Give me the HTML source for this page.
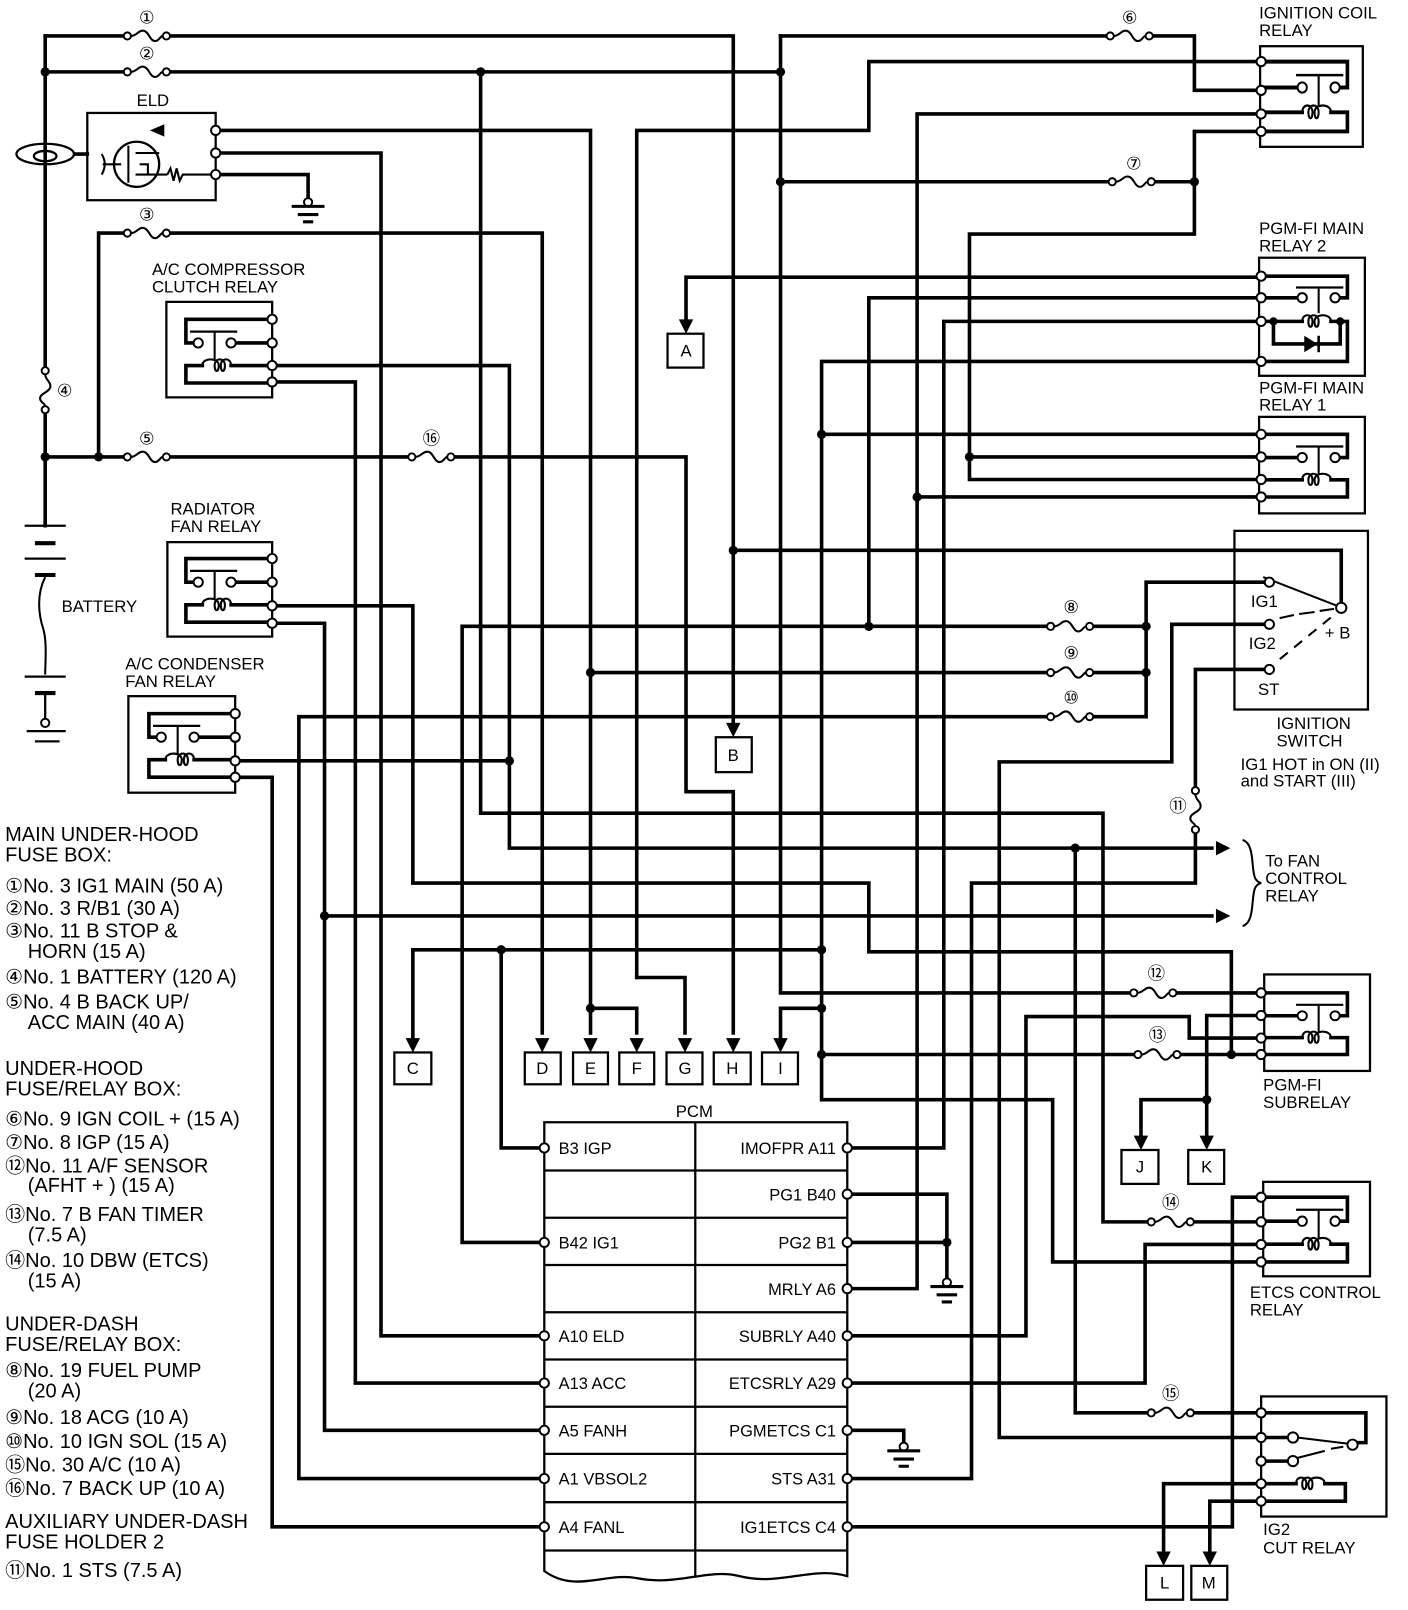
<!DOCTYPE html>
<html><head><meta charset="utf-8"><style>
html,body{margin:0;padding:0;background:#fff}
svg{display:block}
text{font-family:"Liberation Sans","DejaVu Sans","Noto Sans CJK JP",sans-serif;fill:#000}
.w{fill:none;stroke:#000;stroke-width:3.5;stroke-linejoin:miter;stroke-linecap:square}
.t{fill:none;stroke:#000;stroke-width:2}
.b{fill:none;stroke:#000;stroke-width:2.2}
.pin{fill:#fff;stroke:#000;stroke-width:1.9}
.lb{font-size:16.3px}
.lg{font-size:19.5px}
.pc{font-size:16px}
</style></head><body>
<svg width="1408" height="1610" viewBox="0 0 1371 1568" preserveAspectRatio="none" xmlns="http://www.w3.org/2000/svg">
<defs>
<g id="fu">
<rect x="-22" y="-5" width="44" height="10" fill="#fff"/>
<path d="M-15.5,0 C-10,0 -8,-6 -3,-5 C2,-4 3,5 8,5 C12,5 13,0 15.5,0" class="t"/>
<circle cx="-19" cy="0" r="3.5" class="pin"/><circle cx="19" cy="0" r="3.5" class="pin"/>
</g>
<g id="ar"><polygon points="-7,-14 7,-14 0,0" fill="#000"/></g>
<g id="rl">
<path d="M0,0 H84 V23 H76 M0,23 H36 M0,45 H40 M68,45 H84 V62 H0" class="w"/>
<path d="M34,12 H80" class="b"/><path d="M56,12 V40" class="t"/>
<circle cx="40" cy="23" r="4.5" class="pin"/><circle cx="72" cy="23" r="4.5" class="pin"/>
<path d="M40,45 C40,37 50,37 50,45 C50,52 46,52 46,45 C46,37 56,37 56,45 C56,52 52,52 52,45 C52,37 68,37 68,45" class="t"/>
</g>
<g id="gnd">
<circle cx="0" cy="4" r="4" class="pin"/>
<path d="M-16,8 H16 M-10,16 H10 M-5,23 H5" style="stroke:#000;stroke-width:3"/>
</g>
</defs>

<!-- ================= WIRES ================= -->
<g class="w">
<path d="M44,35 H714 V704"/>
<path d="M44,35 V512"/>
<path d="M44,70 H760"/>
<path d="M760,35 H1163 V88 H1228"/>
<path d="M760,35 V967 H1228"/>
<path d="M760,177 H1163 M1228,128 H1163 V228 H944 V467 H1228"/>
<path d="M620,952 V127 H846 V60 H1228"/>
<path d="M620,952 H667 V1006"/>
<path d="M1228,111 H893 V1255 H825 M893,484 H1228"/>
<path d="M210,127 H575 V1006 M575,982 H620 V1006"/>
<path d="M210,149 H371 V1301 H530"/>
<path d="M210,170 H300 V193"/>
<path d="M96,445 V227 H528 V1006"/>
<path d="M44,445 H668 V771 H714 V1006"/>
<path d="M1228,270 H668 V311"/>
<path d="M1228,290 H846 V610"/>
<path d="M1228,313 H919 V1118 H825"/>
<path d="M1228,352 H800 V1071 H1025 V1229 H1228 M800,423 H1228 M944,445 H1228"/>
<path d="M714,536 H1306 V592"/>
<path d="M450,1210 V610 H1116 M450,1210 H530"/>
<path d="M575,655 H1116"/>
<path d="M530,1440 H291 V698 H1116 V567 H1236"/>
<path d="M1236,608 H1141 V742 H973 V1400 H1228"/>
<path d="M1236,652 H1164 V860 H946 V1440 H825"/>
<path d="M265,590 H402 V860 H846 V927 H1199 V1027"/>
<path d="M265,607 H316 V1393 H530 M316,892 H1180"/>
<path d="M265,356 H496 V826 H1180"/>
<path d="M265,372 H346 V1347 H530"/>
<path d="M229,741 H496"/>
<path d="M229,757 H265 V1487 H530"/>
<path d="M468,70 V792 H1074 V1190 H1228"/>
<path d="M402,1011 V925 H800 M488,925 V1118 H530"/>
<path d="M800,982 H760 V1011"/>
<path d="M800,1027 H1228"/>
<path d="M1228,989 H1175 V1106 M1175,1071 H1111 V1106"/>
<path d="M1228,1011 H1158 V990 H999 V1301 H825"/>
<path d="M1047,826 V1376 H1228"/>
<path d="M1228,1166 H1200 V1487 H825"/>
<path d="M1228,1212 H1115 V1347 H825"/>
<path d="M1228,1445 H1133 V1511 M1228,1462 H1178 V1511"/>
<path d="M825,1163 H922 V1245 M825,1210 H922"/>
<path d="M825,1393 H880 V1405"/>
<path d="M73,150 H85"/>
</g>

<!-- dots -->
<g fill="#000">
<circle cx="44" cy="70" r="4.5"/><circle cx="468" cy="70" r="4.5"/><circle cx="760" cy="70" r="4.5"/>
<circle cx="760" cy="177" r="4.5"/><circle cx="1163" cy="177" r="4.5"/>
<circle cx="44" cy="445" r="4.5"/><circle cx="96" cy="445" r="4.5"/>
<circle cx="944" cy="445" r="4.5"/><circle cx="800" cy="423" r="4.5"/><circle cx="893" cy="484" r="4.5"/>
<circle cx="714" cy="536" r="4.5"/><circle cx="846" cy="610" r="4.5"/><circle cx="1116" cy="610" r="4.5"/>
<circle cx="575" cy="655" r="4.5"/><circle cx="1116" cy="655" r="4.5"/>
<circle cx="496" cy="741" r="4.5"/><circle cx="1047" cy="826" r="4.5"/><circle cx="316" cy="892" r="4.5"/>
<circle cx="488" cy="925" r="4.5"/><circle cx="800" cy="925" r="4.5"/><circle cx="800" cy="982" r="4.5"/>
<circle cx="575" cy="982" r="4.5"/><circle cx="800" cy="1027" r="4.5"/><circle cx="1199" cy="1027" r="4.5"/>
<circle cx="1175" cy="1071" r="4.5"/><circle cx="922" cy="1210" r="4.5"/>
</g>

<!-- fuses -->
<use href="#fu" x="143" y="35"/><use href="#fu" x="143" y="70"/><use href="#fu" x="143" y="227"/>
<use href="#fu" x="143" y="445"/><use href="#fu" x="420" y="445"/>
<use href="#fu" x="1100" y="35"/><use href="#fu" x="1102" y="177"/>
<use href="#fu" x="1042" y="610"/><use href="#fu" x="1042" y="655"/><use href="#fu" x="1042" y="698"/>
<use href="#fu" x="1123" y="967"/><use href="#fu" x="1127" y="1027"/><use href="#fu" x="1140" y="1190"/><use href="#fu" x="1140" y="1376"/>
<g transform="translate(44,380) rotate(90)"><use href="#fu"/></g>
<g transform="translate(1164,789) rotate(90)"><use href="#fu"/></g>
<g text-anchor="middle" font-size="17">
<text x="143" y="23">①</text><text x="143" y="58">②</text><text x="143" y="215">③</text>
<text x="143" y="433">⑤</text><text x="420" y="433">⑯</text><text x="63" y="386">④</text>
<text x="1100" y="23">⑥</text><text x="1104" y="165">⑦</text>
<text x="1043" y="597">⑧</text><text x="1043" y="642">⑨</text><text x="1043" y="685">⑩</text>
<text x="1147" y="791">⑪</text>
<text x="1126" y="954">⑫</text><text x="1127" y="1014">⑬</text><text x="1140" y="1177">⑭</text><text x="1140" y="1363">⑮</text>
</g>

<!-- arrows & letter boxes -->
<use href="#ar" x="668" y="325"/><use href="#ar" x="714" y="718"/>
<use href="#ar" x="402" y="1025"/><use href="#ar" x="528" y="1025"/><use href="#ar" x="575" y="1025"/>
<use href="#ar" x="620" y="1025"/><use href="#ar" x="667" y="1025"/><use href="#ar" x="714" y="1025"/><use href="#ar" x="760" y="1025"/>
<use href="#ar" x="1111" y="1120"/><use href="#ar" x="1175" y="1120"/>
<use href="#ar" x="1133" y="1525"/><use href="#ar" x="1178" y="1525"/>
<g transform="translate(1198,826) rotate(-90)"><use href="#ar"/></g>
<g transform="translate(1198,892) rotate(-90)"><use href="#ar"/></g>
<g class="b">
<rect x="650" y="325" width="35" height="33"/><rect x="697" y="718" width="35" height="34"/>
<rect x="384" y="1025" width="36" height="31"/><rect x="511" y="1025" width="35" height="31"/>
<rect x="558" y="1025" width="34" height="31"/><rect x="603" y="1025" width="34" height="31"/>
<rect x="649" y="1025" width="35" height="31"/><rect x="695" y="1025" width="36" height="31"/>
<rect x="742" y="1025" width="35" height="31"/>
<rect x="1092" y="1120" width="36" height="33"/><rect x="1157" y="1120" width="35" height="33"/>
<rect x="1116" y="1525" width="36" height="33"/><rect x="1160" y="1525" width="35" height="33"/>
</g>
<g class="lb" text-anchor="middle">
<text x="668" y="347">A</text><text x="714" y="741">B</text>
<text x="402" y="1046">C</text><text x="528" y="1046">D</text><text x="575" y="1046">E</text><text x="620" y="1046">F</text>
<text x="667" y="1046">G</text><text x="713" y="1046">H</text><text x="760" y="1046">I</text>
<text x="1110" y="1142">J</text><text x="1175" y="1142">K</text><text x="1134" y="1547">L</text><text x="1177" y="1547">M</text>
</g>

<!-- grounds -->
<use href="#gnd" x="300" y="193"/><use href="#gnd" x="922" y="1245"/><use href="#gnd" x="880" y="1405"/>

<!-- ELD -->
<rect x="85" y="110" width="125" height="85" class="b"/>
<ellipse cx="44" cy="150" rx="28" ry="10" class="b"/><ellipse cx="44" cy="152" rx="11" ry="5" class="b"/>
<polygon points="146,127 160,121 160,133" fill="#000"/>
<circle cx="133" cy="160" r="22" class="b"/>
<path d="M100,160 H118 M125,142 V178 M132,149 H155 M132,170 H163 M136,160 H144 V170" class="t"/>
<path d="M163,170 l3,-6 3,12 3,-12 3,12 3,-6 H210" class="t"/>
<path d="M99,150 q6,10 0,20" class="t"/>
<circle cx="210" cy="127" r="4.5" class="pin"/><circle cx="210" cy="149" r="4.5" class="pin"/><circle cx="210" cy="170" r="4.5" class="pin"/>
<text x="133" y="103" class="lb">ELD</text>

<!-- battery -->
<g style="stroke:#000;stroke-width:2.2">
<path d="M24,512 H64 M24,544 H64 M24,659 H64"/>
<path d="M34,529 H54 M34,560 H54 M34,675 H54" stroke-width="4"/>
<path d="M44,675 V700 M26,712 H64 M34,722 H58"/>
</g>
<circle cx="44" cy="704" r="4" class="pin"/>
<path d="M44,562 C35,580 38,600 42,612 C46,625 44,645 44,657" class="t" stroke-width="1.2"/>
<text x="60" y="596" class="lb">BATTERY</text>

<!-- left relays -->
<rect x="162" y="294" width="103" height="93" class="b"/>
<g transform="translate(265,311) scale(-1,1)"><use href="#rl"/></g>
<rect x="163" y="528" width="102" height="92" class="b"/>
<g transform="translate(265,544) scale(-1,1)"><use href="#rl"/></g>
<rect x="125" y="678" width="104" height="94" class="b"/>
<g transform="translate(229,695) scale(-1,0.998)"><use href="#rl"/></g>
<g>
<circle cx="265" cy="311" r="4.5" class="pin"/><circle cx="265" cy="334" r="4.5" class="pin"/><circle cx="265" cy="356" r="4.5" class="pin"/><circle cx="265" cy="372" r="4.5" class="pin"/>
<circle cx="265" cy="544" r="4.5" class="pin"/><circle cx="265" cy="567" r="4.5" class="pin"/><circle cx="265" cy="590" r="4.5" class="pin"/><circle cx="265" cy="607" r="4.5" class="pin"/>
<circle cx="229" cy="695" r="4.5" class="pin"/><circle cx="229" cy="718" r="4.5" class="pin"/><circle cx="229" cy="741" r="4.5" class="pin"/><circle cx="229" cy="757" r="4.5" class="pin"/>
</g>
<g class="lb">
<text x="148" y="268">A/C COMPRESSOR</text><text x="148" y="285">CLUTCH RELAY</text>
<text x="166" y="501">RADIATOR</text><text x="166" y="518">FAN RELAY</text>
<text x="122" y="652">A/C CONDENSER</text><text x="122" y="669">FAN RELAY</text>
</g>

<!-- right relays -->
<rect x="1227" y="45" width="100" height="98" class="b"/>
<g transform="translate(1228,60) scale(1,1.097)"><use href="#rl"/></g>
<rect x="1226" y="251" width="103" height="115" class="b"/>
<g class="w"><path d="M1228,269 H1312 V290 H1304 M1228,290 H1264 M1228,313 H1268 M1296,313 H1312 V352 H1228"/></g>
<path d="M1262,280 H1308" class="b"/><path d="M1284,280 V305" class="t"/>
<circle cx="1268" cy="290" r="4.5" class="pin"/><circle cx="1300" cy="290" r="4.5" class="pin"/>
<path d="M1268,313 C1268,305 1278,305 1278,313 C1278,320 1274,320 1274,313 C1274,305 1284,305 1284,313 C1284,320 1280,320 1280,313 C1280,305 1296,305 1296,313" class="t"/>
<path d="M1240,313 V335 H1305 V313" class="w"/>
<polygon points="1270,327 1270,343 1283,335" fill="#000"/><path d="M1284,327 V343" style="stroke:#000;stroke-width:2.5"/>
<circle cx="1240" cy="313" r="4" fill="#000"/><circle cx="1305" cy="313" r="4" fill="#000"/>
<rect x="1226" y="406" width="103" height="94" class="b"/>
<g transform="translate(1228,423) scale(1,0.984)"><use href="#rl"/></g>
<rect x="1231" y="949" width="103" height="94" class="b"/>
<g transform="translate(1228,967) scale(1,0.968)"><use href="#rl"/></g>
<rect x="1230" y="1151" width="104" height="92" class="b"/>
<g transform="translate(1228,1166) scale(1,1.016)"><use href="#rl"/></g>
<!-- IG2 cut relay -->
<rect x="1228" y="1360" width="122" height="117" class="b"/>
<g class="w"><path d="M1228,1376 H1330 V1405 H1320 M1228,1400 H1255 M1228,1423 H1255 M1228,1445 H1262 M1290,1445 H1310 V1462 H1228"/></g>
<circle cx="1259" cy="1400" r="5" class="pin"/><circle cx="1259" cy="1423" r="5" class="pin"/><circle cx="1317" cy="1407" r="5" class="pin"/>
<path d="M1263,1400 L1312,1406 M1263,1420 L1290,1413 M1296,1411 L1308,1409" class="t"/>
<path d="M1262,1445 C1262,1437 1272,1437 1272,1445 C1272,1452 1268,1452 1268,1445 C1268,1437 1278,1437 1278,1445 C1278,1452 1274,1452 1274,1445 C1274,1437 1290,1437 1290,1445" class="t"/>
<g>
<circle cx="1228" cy="60" r="4.5" class="pin"/><circle cx="1228" cy="88" r="4.5" class="pin"/><circle cx="1228" cy="111" r="4.5" class="pin"/><circle cx="1228" cy="128" r="4.5" class="pin"/>
<circle cx="1228" cy="269" r="4.5" class="pin"/><circle cx="1228" cy="290" r="4.5" class="pin"/><circle cx="1228" cy="313" r="4.5" class="pin"/><circle cx="1228" cy="352" r="4.5" class="pin"/>
<circle cx="1228" cy="423" r="4.5" class="pin"/><circle cx="1228" cy="445" r="4.5" class="pin"/><circle cx="1228" cy="467" r="4.5" class="pin"/><circle cx="1228" cy="484" r="4.5" class="pin"/>
<circle cx="1228" cy="967" r="4.5" class="pin"/><circle cx="1228" cy="989" r="4.5" class="pin"/><circle cx="1228" cy="1011" r="4.5" class="pin"/><circle cx="1228" cy="1027" r="4.5" class="pin"/>
<circle cx="1228" cy="1166" r="4.5" class="pin"/><circle cx="1228" cy="1190" r="4.5" class="pin"/><circle cx="1228" cy="1212" r="4.5" class="pin"/><circle cx="1228" cy="1229" r="4.5" class="pin"/>
<circle cx="1228" cy="1376" r="4.5" class="pin"/><circle cx="1228" cy="1400" r="4.5" class="pin"/><circle cx="1228" cy="1423" r="4.5" class="pin"/><circle cx="1228" cy="1445" r="4.5" class="pin"/><circle cx="1228" cy="1462" r="4.5" class="pin"/>
</g>
<g class="lb">
<text x="1226" y="18">IGNITION COIL</text><text x="1226" y="35">RELAY</text>
<text x="1226" y="228">PGM-FI MAIN</text><text x="1226" y="245">RELAY 2</text>
<text x="1226" y="383">PGM-FI MAIN</text><text x="1226" y="400">RELAY 1</text>
<text x="1230" y="1062">PGM-FI</text><text x="1230" y="1079">SUBRELAY</text>
<text x="1217" y="1264">ETCS CONTROL</text><text x="1217" y="1281">RELAY</text>
<text x="1230" y="1495">IG2</text><text x="1230" y="1513">CUT RELAY</text>
</g>

<!-- ignition switch -->
<rect x="1202" y="517" width="130" height="174" class="b"/>
<path d="M1230,562 L1302,590 M1246,602 L1260,599 M1265,598 L1280,596 M1285,595 L1299,593 M1240,647 L1300,598" class="t"/>
<path d="M1240,647 L1300,598" stroke="#fff" stroke-width="3" stroke-dasharray="8,10"/>
<circle cx="1236" cy="567" r="4.5" class="pin"/><circle cx="1236" cy="608" r="4.5" class="pin"/><circle cx="1236" cy="652" r="4.5" class="pin"/><circle cx="1306" cy="592" r="5" class="pin"/>
<g class="lb">
<text x="1218" y="591">IG1</text><text x="1216" y="632">IG2</text><text x="1225" y="677">ST</text><text x="1290" y="622">+ B</text>
<text x="1243" y="710">IGNITION</text><text x="1243" y="727">SWITCH</text>
<text x="1208" y="750">IG1 HOT in ON (II)</text><text x="1208" y="766">and START (III)</text>
<text x="1232" y="844">To FAN</text><text x="1232" y="861">CONTROL</text><text x="1232" y="878">RELAY</text>
</g>
<path d="M1210,818 C1222,822 1218,845 1222,855 Q1224,859 1228,860 Q1224,861 1222,865 C1218,875 1222,898 1210,902" class="t"/>

<!-- PCM -->
<path d="M530,1093 H825 V1535 C790,1525 760,1545 720,1535 C690,1527 660,1545 620,1537 C590,1531 560,1552 530,1530 Z" class="b"/>
<path d="M677,1093 V1535 M530,1140 H825 M530,1186 H825 M530,1232 H825 M530,1278 H825 M530,1324 H825 M530,1370 H825 M530,1416 H825 M530,1463 H825 M530,1510 H825" class="b"/>
<text x="658" y="1088" class="lb">PCM</text>
<g class="pc">
<text x="544" y="1124">B3 IGP</text><text x="544" y="1216">B42 IG1</text><text x="544" y="1307">A10 ELD</text>
<text x="544" y="1353">A13 ACC</text><text x="544" y="1399">A5 FANH</text><text x="544" y="1446">A1 VBSOL2</text><text x="544" y="1493">A4 FANL</text>
</g>
<g class="pc" text-anchor="end">
<text x="814" y="1124">IMOFPR A11</text><text x="814" y="1169">PG1 B40</text><text x="814" y="1216">PG2 B1</text>
<text x="814" y="1261">MRLY A6</text><text x="814" y="1307">SUBRLY A40</text><text x="814" y="1353">ETCSRLY A29</text>
<text x="814" y="1399">PGMETCS C1</text><text x="814" y="1446">STS A31</text><text x="814" y="1493">IG1ETCS C4</text>
</g>
<g>
<circle cx="530" cy="1118" r="4.5" class="pin"/><circle cx="530" cy="1210" r="4.5" class="pin"/><circle cx="530" cy="1301" r="4.5" class="pin"/>
<circle cx="530" cy="1347" r="4.5" class="pin"/><circle cx="530" cy="1393" r="4.5" class="pin"/><circle cx="530" cy="1440" r="4.5" class="pin"/><circle cx="530" cy="1487" r="4.5" class="pin"/>
<circle cx="825" cy="1118" r="4.5" class="pin"/><circle cx="825" cy="1163" r="4.5" class="pin"/><circle cx="825" cy="1210" r="4.5" class="pin"/>
<circle cx="825" cy="1255" r="4.5" class="pin"/><circle cx="825" cy="1301" r="4.5" class="pin"/><circle cx="825" cy="1347" r="4.5" class="pin"/>
<circle cx="825" cy="1393" r="4.5" class="pin"/><circle cx="825" cy="1440" r="4.5" class="pin"/><circle cx="825" cy="1487" r="4.5" class="pin"/>
</g>

<!-- legend -->
<g class="lg">
<text x="5" y="819">MAIN UNDER-HOOD</text><text x="5" y="839">FUSE BOX:</text>
<text x="5" y="869">①No. 3 IG1 MAIN (50 A)</text>
<text x="5" y="891">②No. 3 R/B1 (30 A)</text>
<text x="5" y="913">③No. 11 B STOP &amp;</text>
<text x="27" y="933">HORN (15 A)</text>
<text x="5" y="958">④No. 1 BATTERY (120 A)</text>
<text x="5" y="982">⑤No. 4 B BACK UP/</text>
<text x="27" y="1002">ACC MAIN (40 A)</text>
<text x="5" y="1047">UNDER-HOOD</text><text x="5" y="1067">FUSE/RELAY BOX:</text>
<text x="5" y="1096">⑥No. 9 IGN COIL +  (15 A)</text>
<text x="5" y="1119">⑦No. 8 IGP (15 A)</text>
<text x="5" y="1142">⑫No. 11 A/F SENSOR</text>
<text x="27" y="1161">(AFHT + ) (15 A)</text>
<text x="5" y="1189">⑬No. 7 B FAN TIMER</text>
<text x="27" y="1209">(7.5 A)</text>
<text x="5" y="1234">⑭No. 10 DBW (ETCS)</text>
<text x="27" y="1254">(15 A)</text>
<text x="5" y="1296">UNDER-DASH</text><text x="5" y="1316">FUSE/RELAY BOX:</text>
<text x="5" y="1341">⑧No. 19 FUEL PUMP</text>
<text x="27" y="1361">(20 A)</text>
<text x="5" y="1387">⑨No. 18 ACG (10 A)</text>
<text x="5" y="1410">⑩No. 10 IGN SOL (15 A)</text>
<text x="5" y="1433">⑮No. 30 A/C (10 A)</text>
<text x="5" y="1456">⑯No. 7 BACK UP (10 A)</text>
<text x="5" y="1488">AUXILIARY UNDER-DASH</text><text x="5" y="1508">FUSE HOLDER 2</text>
<text x="5" y="1536">⑪No. 1 STS (7.5 A)</text>
</g>
</svg>
</body></html>
